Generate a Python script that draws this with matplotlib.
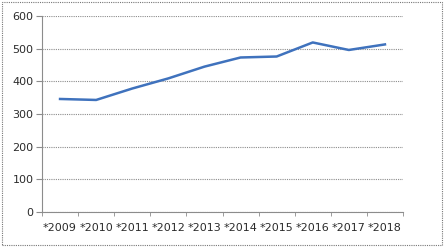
import matplotlib.pyplot as plt
from matplotlib.patches import Rectangle

# datos
anios = ['*2009', '*2010', '*2011', '*2012', '*2013', '*2014', '*2015', '*2016', '*2017', '*2018']
valores = [346, 343, 378, 409, 445, 473, 476, 519, 496, 513]
ticks_y = [0, 100, 200, 300, 400, 500, 600]

fig = plt.figure(figsize=(4.45, 2.47), dpi=100)
ax = fig.add_axes([42 / 445, 1 - 212 / 247, 361 / 445, 196 / 247])

x = list(range(len(anios)))
ax.plot(x, valores, color='#3F72BD', linewidth=1.8, solid_joinstyle='round', zorder=3)

ax.set_xlim(-0.5, len(anios) - 0.5)
ax.set_ylim(0, 600)
ax.set_yticks(ticks_y)
ax.set_xticks(x)
ax.set_xticklabels(anios)
ax.set_xticks([i - 0.5 for i in range(len(anios) + 1)], minor=True)

ax.grid(axis='y', color='#8C8C8C', linestyle=(0, (1, 1)), linewidth=0.8, zorder=0)
ax.tick_params(axis='x', which='major', length=0, pad=8, labelsize=8, colors='#2b2b2b')
ax.tick_params(axis='x', which='minor', length=3, color='#8C8C8C', direction='out')
ax.tick_params(axis='y', length=4, color='#8C8C8C', labelsize=8, colors='#2b2b2b', pad=2)

for lado in ['top', 'right']:
    ax.spines[lado].set_visible(False)
ax.spines['left'].set_color('#8C8C8C')
ax.spines['left'].set_linewidth(0.8)
ax.spines['bottom'].set_color('#8C8C8C')
ax.spines['bottom'].set_linewidth(0.8)
ax.spines['bottom'].set_linestyle((0, (1, 1)))

# borde punteado alrededor del grafico
borde = Rectangle((0.004, 0.008), 0.99, 0.985, transform=fig.transFigure, fill=False,
                  edgecolor='#777777', linestyle=(0, (1, 1)), linewidth=0.8)
fig.patches.append(borde)

fig.savefig('out.png', dpi=100)
